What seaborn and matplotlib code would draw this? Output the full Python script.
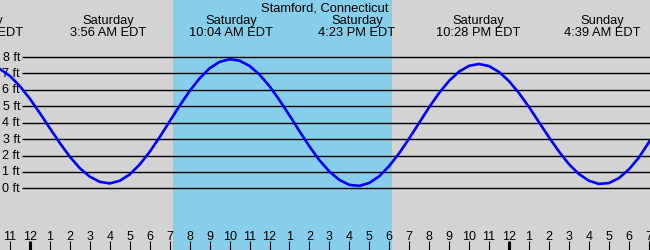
import numpy as np
import pandas as pd
import matplotlib
matplotlib.use("Agg")
import matplotlib.pyplot as plt
import seaborn as sns

plt.rcParams['font.family'] = ['Liberation Sans', 'DejaVu Sans']

# ---- data ----
title = "Stamford, Connecticut"
# hours relative to Saturday midnight, half-hour samples
hours = np.arange(-2.0, 32.0, 0.5)
heights = [7.48, 7.27, 6.84, 6.22, 5.45, 4.57, 3.65, 2.75, 1.92, 1.22, 0.71, 0.39,
           0.30, 0.46, 0.85, 1.46, 2.23, 3.13, 4.09, 5.04, 5.94, 6.71, 7.32, 7.71,
           7.87, 7.78, 7.46, 6.93, 6.22, 5.37, 4.44, 3.48, 2.55, 1.71, 1.02, 0.51,
           0.21, 0.15, 0.33, 0.74, 1.37, 2.15, 3.05, 4.00, 4.95, 5.82, 6.56, 7.12,
           7.47, 7.58, 7.45, 7.09, 6.53, 5.80, 4.95, 4.03, 3.11, 2.24, 1.47, 0.87,
           0.46, 0.27, 0.32, 0.62, 1.15, 1.87, 2.80, 3.75]

event_hours = [-2.28, 3.93, 10.07, 16.38, 22.47, 28.65]
event_days = ["Friday", "Saturday", "Saturday", "Saturday", "Saturday", "Sunday"]
event_times = ["9:47 PM EDT", "3:56 AM EDT", "10:04 AM EDT", "4:23 PM EDT",
               "10:28 PM EDT", "4:39 AM EDT"]

daylight = (7.16, 18.11)
grid_ft = [0, 1, 2, 3, 4, 5, 6, 7, 8]
tick_hours = list(range(-1, 32))
tick_labels = [str((h % 12) or 12) for h in tick_hours]

# ---- figure ----
fig = plt.figure(figsize=(6.5, 2.5), dpi=100)
ax = fig.add_axes([0, 0, 1, 1])
ax.set_facecolor('#D3D3D3')
fig.patch.set_facecolor('#D3D3D3')

x0, x1 = -1.503, 31.06
y0, y1 = -3.76, 11.48
ax.set_xlim(x0, x1)
ax.set_ylim(y0, y1)

ax.axvspan(daylight[0], daylight[1], color='#87CEEB', lw=0, zorder=0)

ax.hlines(grid_ft, -0.4, x1, colors='black', lw=1.0, zorder=1)
for g in grid_ft:
    ax.text(-0.5, g - 0.21, f"{g} ft", ha='right', va='baseline', fontsize=9, color='black')

df = pd.DataFrame({'hour': hours, 'ft': heights})
sns.lineplot(data=df, x='hour', y='ft', ax=ax, color='#0000FF', lw=1.9, zorder=3)

# header labels
ax.text((x0 + x1) / 2, 10.77, title, ha='center', va='baseline', fontsize=9.3)
for h, d, t in zip(event_hours, event_days, event_times):
    ax.text(h, 10.0, d, ha='center', va='baseline', fontsize=9.3)
    ax.text(h, 9.29, t, ha='center', va='baseline', fontsize=9.3)

# hour ticks
for h, lab in zip(tick_hours, tick_labels):
    w = 2.2 if h % 24 == 0 else 0.8
    ax.vlines(h, y0, -3.24, colors='black', lw=w)
    ax.text(h, -3.15, lab, ha='center', va='baseline', fontsize=9)

ax.set_xlabel('')
ax.set_ylabel('')
ax.set_xticks([])
ax.set_yticks([])
for s in ax.spines.values():
    s.set_visible(False)

fig.savefig('out.png', dpi=100, facecolor=fig.get_facecolor())
